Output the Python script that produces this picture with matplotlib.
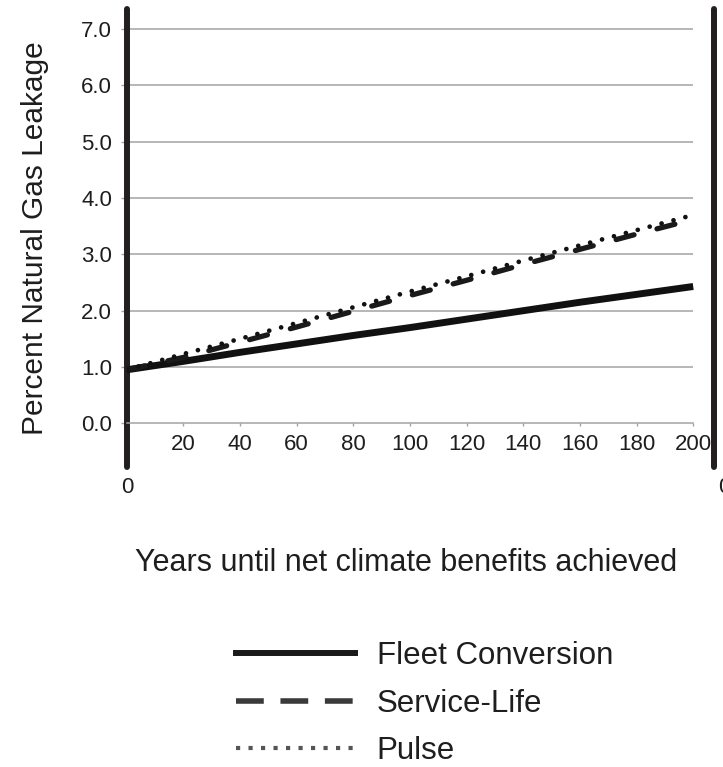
import matplotlib
matplotlib.use("Agg")
import matplotlib.pyplot as plt
from matplotlib.lines import Line2D

plt.rcParams['font.family'] = ['Liberation Sans', 'DejaVu Sans']

# ---- data ----
years = [0, 20, 40, 60, 80, 100, 120, 140, 160, 180, 200]
fleet_conversion = [0.95, 1.10, 1.26, 1.41, 1.56, 1.70, 1.85, 2.00, 2.15, 2.29, 2.43]
service_life = [0.95, 1.17, 1.44, 1.71, 1.99, 2.27, 2.54, 2.82, 3.09, 3.36, 3.62]
pulse = [0.95, 1.23, 1.50, 1.78, 2.06, 2.34, 2.61, 2.89, 3.16, 3.43, 3.70]
x_ticks = [20, 40, 60, 80, 100, 120, 140, 160, 180, 200]
y_ticks = [0, 1, 2, 3, 4, 5, 6, 7]
y_tick_labels = ["0.0", "1.0", "2.0", "3.0", "4.0", "5.0", "6.0", "7.0"]
series_names = ["Fleet Conversion", "Service-Life", "Pulse"]

W, H = 723, 767
fig = plt.figure(figsize=(W / 100, H / 100), dpi=100)

x0_px, x1_px = 126.6, 714.3
ybot_px, ytop_px = 467, 9.3
ax = fig.add_axes([x0_px / W, 1 - ybot_px / H, (x1_px - x0_px) / W, (ybot_px - ytop_px) / H])
ax.set_xlim(0, (x1_px - x0_px) / 2.833)
ax.set_ylim(-0.776, 7.353)

txt = '#1e1e1e'
spine_c = '#231f20'
grid_c = '#a3a3a3'

# gridlines
ax.hlines(y_ticks[1:], 0, 200, color=grid_c, lw=1.1, zorder=1)

# spines
for side in ['left', 'right']:
    ax.spines[side].set_linewidth(4.3)
    ax.spines[side].set_color(spine_c)
    ax.spines[side].set_capstyle('round')
ax.spines['top'].set_visible(False)
ax.spines['bottom'].set_position(('data', 0))
ax.spines['bottom'].set_bounds(0, 200)
ax.spines['bottom'].set_color(grid_c)
ax.spines['bottom'].set_linewidth(1.1)

ax.set_xticks(x_ticks)
ax.set_xticklabels([str(v) for v in x_ticks])
ax.set_yticks(y_ticks)
ax.set_yticklabels(y_tick_labels)
ax.tick_params(axis='x', direction='out', length=2.5, width=1, color=grid_c,
               labelsize=16, labelcolor=txt, pad=5)
ax.tick_params(axis='y', direction='out', length=4.5, width=1, color=grid_c,
               labelsize=16, labelcolor=txt, pad=6)

# series
l1, = ax.plot(years, fleet_conversion, color='#111111', lw=5, solid_capstyle='butt',
              label=series_names[0], zorder=3)
l2, = ax.plot(years, service_life, color='#1a1a1a', lw=3.8, dashes=(3.5, 4.5),
              dash_capstyle='round', label=series_names[1], zorder=3)
l3, = ax.plot(years, pulse, color='#111111', lw=3.4, dashes=(0.01, 2.6),
              dash_capstyle='round', label=series_names[2], zorder=3)

# stray axis zero labels
fig.text(127 / W, 1 - 487 / H, "0", ha='center', va='center', fontsize=16, color=txt)
fig.text(724 / W, 1 - 487 / H, "0", ha='center', va='center', fontsize=16, color=txt)

# axis titles
fig.text(35 / W, 1 - 238 / H, "Percent Natural Gas Leakage", rotation=90,
         ha='center', va='center', fontsize=21.5, color=txt)
fig.text(406 / W, 1 - 571 / H, "Years until net climate benefits achieved",
         ha='center', va='baseline', fontsize=22, color=txt)

# legend
h1 = Line2D([], [], color='#1a1a1a', lw=4.3)
h2 = Line2D([], [], color='#3a3a3a', lw=4.0, dashes=(5, 3), dash_capstyle='butt')
h3 = Line2D([], [], color='#555555', lw=3.0, dashes=(1, 2), dash_capstyle='butt')
leg = fig.legend([h1, h2, h3], series_names, loc='upper left',
                 bbox_to_anchor=(236 / W, 1 - 641 / H), frameon=False,
                 fontsize=22.5, handlelength=3.8, handletextpad=0.7,
                 labelspacing=0.56, borderpad=0, borderaxespad=0)
for t in leg.get_texts():
    t.set_color(txt)

fig.savefig("out.png", dpi=100)
